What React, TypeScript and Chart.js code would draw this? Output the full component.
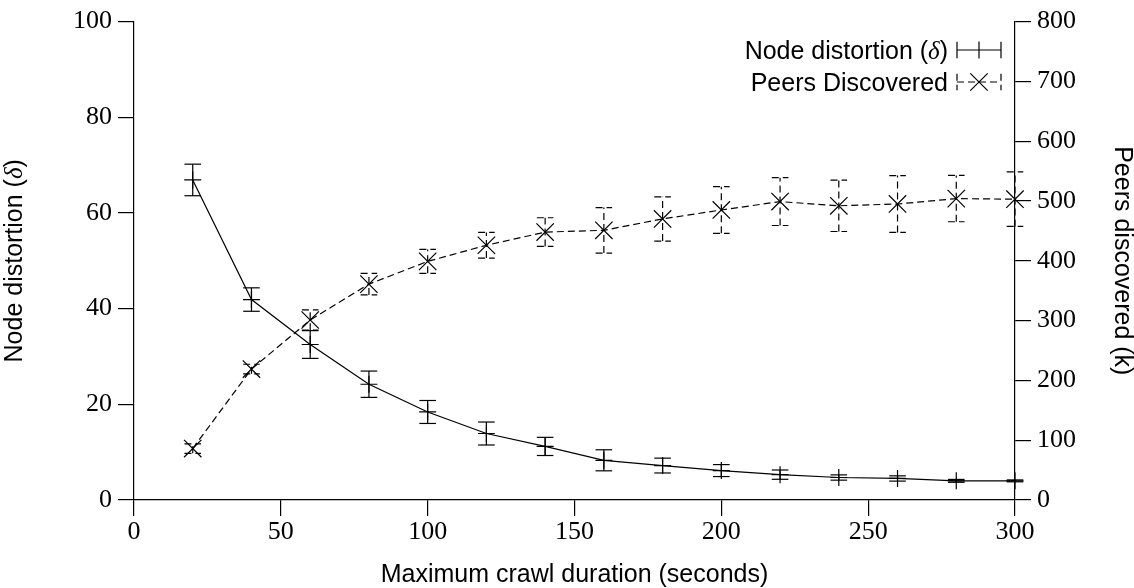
import React, { useEffect, useRef } from "react";
import { Chart, registerables } from "chart.js";

Chart.register(...registerables);

// ---- data ----
const crawlDurations = [20, 40, 60, 80, 100, 120, 140, 160, 180, 200, 220, 240, 260, 280, 300];
const nodeDistortion = [66.9, 41.9, 32.5, 24.2, 18.4, 13.9, 11.2, 8.3, 7.2, 6.15, 5.3, 4.7, 4.5, 4.0, 4.0];
const nodeDistortionErr = [3.3, 2.45, 2.9, 2.75, 2.4, 2.4, 1.9, 2.2, 1.55, 1.25, 0.97, 0.55, 0.55, 0.3, 0.2];
const peersDiscovered = [86, 219, 301, 361, 399, 426, 448, 451, 470, 485, 499, 492, 495, 504, 503];
const peersDiscoveredErr = [8, 8, 17, 18, 20, 21.5, 24, 38, 37, 39, 40, 43, 47.5, 38.7, 45.6];

const xTickStep = 50;
const leftTickStep = 20;
const rightTickStep = 100;

const seriesLabels = ["Node distortion", "Peers Discovered"];
const xTitle = "Maximum crawl duration (seconds)";
const leftTitle = "Node distortion";
const rightTitle = "Peers discovered (k)";

const errorArrays = [nodeDistortionErr, peersDiscoveredErr];

const SANS = "'Liberation Sans', Arial, sans-serif";
const SERIF = "'Liberation Serif', 'Times New Roman', serif";
const DASH = [7, 4];
const CAP = 8.3;

type Part = { text: string; font: string };

function drawParts(ctx: CanvasRenderingContext2D, parts: Part[], x: number, y: number, align: "left" | "center" | "right") {
  let total = 0;
  const widths = parts.map((p) => {
    ctx.font = p.font;
    const w = ctx.measureText(p.text).width;
    total += w;
    return w;
  });
  let cx = align === "left" ? x : align === "center" ? x - total / 2 : x - total;
  ctx.textAlign = "left";
  parts.forEach((p, i) => {
    ctx.font = p.font;
    ctx.fillText(p.text, cx, y);
    cx += widths[i];
  });
}

const errorBarsPlugin = {
  id: "errorBars",
  afterDatasetsDraw(chart: any) {
    const ctx: CanvasRenderingContext2D = chart.ctx;
    const xScale = chart.scales.x;
    chart.data.datasets.forEach((ds: any, i: number) => {
      const yScale = chart.scales[ds.yAxisID];
      const errs = errorArrays[i];
      ctx.save();
      ctx.strokeStyle = "#000";
      ctx.lineWidth = 1.2;
      ctx.setLineDash(i === 1 ? DASH : []);
      ds.data.forEach((pt: any, j: number) => {
        const x = xScale.getPixelForValue(pt.x);
        const yLo = yScale.getPixelForValue(pt.y - errs[j]);
        const yHi = yScale.getPixelForValue(pt.y + errs[j]);
        ctx.beginPath();
        ctx.moveTo(x, yLo);
        ctx.lineTo(x, yHi);
        ctx.stroke();
        ctx.beginPath();
        ctx.moveTo(x - CAP, yLo);
        ctx.lineTo(x + CAP, yLo);
        ctx.stroke();
        ctx.beginPath();
        ctx.moveTo(x - CAP, yHi);
        ctx.lineTo(x + CAP, yHi);
        ctx.stroke();
      });
      ctx.restore();
    });
  },
};

const annotationsPlugin = {
  id: "annotations",
  afterDraw(chart: any) {
    const ctx: CanvasRenderingContext2D = chart.ctx;
    const area = chart.chartArea;
    const sans = `25px ${SANS}`;
    const ital = `italic 25px ${SERIF}`;
    ctx.save();
    ctx.fillStyle = "#000";
    ctx.strokeStyle = "#000";
    ctx.lineWidth = 1.2;

    // axis titles
    const midY = (area.top + area.bottom) / 2;
    ctx.save();
    ctx.translate(15, midY);
    ctx.rotate(-Math.PI / 2);
    ctx.textBaseline = "middle";
    drawParts(ctx, [
      { text: leftTitle + " (", font: sans },
      { text: "δ", font: ital },
      { text: ")", font: sans },
    ], 0, 0, "center");
    ctx.restore();

    ctx.save();
    ctx.translate(1122, midY);
    ctx.rotate(Math.PI / 2);
    ctx.textBaseline = "middle";
    drawParts(ctx, [{ text: rightTitle, font: sans }], 0, 0, "center");
    ctx.restore();

    // legend
    const textRight = 948;
    const iconL = 957;
    const iconR = 1001;
    const iconC = (iconL + iconR) / 2;
    ctx.textBaseline = "alphabetic";
    drawParts(ctx, [
      { text: seriesLabels[0] + " (", font: sans },
      { text: "δ", font: ital },
      { text: ")", font: sans },
    ], textRight, 59.3, "right");
    drawParts(ctx, [{ text: seriesLabels[1], font: sans }], textRight, 91, "right");

    const r1 = 50;
    ctx.setLineDash([]);
    ctx.beginPath();
    ctx.moveTo(iconL, r1);
    ctx.lineTo(iconR, r1);
    ctx.moveTo(iconL, r1 - CAP);
    ctx.lineTo(iconL, r1 + CAP);
    ctx.moveTo(iconR, r1 - CAP);
    ctx.lineTo(iconR, r1 + CAP);
    ctx.moveTo(iconC, r1 - 8.5);
    ctx.lineTo(iconC, r1 + 8.5);
    ctx.stroke();

    const r2 = 82;
    ctx.setLineDash(DASH);
    ctx.beginPath();
    ctx.moveTo(iconL, r2);
    ctx.lineTo(iconR, r2);
    ctx.stroke();
    ctx.beginPath();
    ctx.moveTo(iconL, r2 - CAP);
    ctx.lineTo(iconL, r2 + CAP);
    ctx.stroke();
    ctx.beginPath();
    ctx.moveTo(iconR, r2 - CAP);
    ctx.lineTo(iconR, r2 + CAP);
    ctx.stroke();
    ctx.setLineDash([]);
    ctx.beginPath();
    const d = 8.7;
    ctx.moveTo(iconC - d, r2 - d);
    ctx.lineTo(iconC + d, r2 + d);
    ctx.moveTo(iconC - d, r2 + d);
    ctx.lineTo(iconC + d, r2 - d);
    ctx.stroke();

    ctx.restore();
  },
};

export default function App() {
  const canvasRef = useRef<HTMLCanvasElement | null>(null);

  useEffect(() => {
    if (!canvasRef.current) return;
    const tickFont = { family: SERIF, size: 26 };
    const gridCommon = {
      display: true,
      drawOnChartArea: false,
      drawTicks: true,
      tickLength: 16,
      color: "#000",
      lineWidth: 1.2,
    };
    const borderCommon = { display: true, color: "#000", width: 1.2 };

    const chart = new Chart(canvasRef.current, {
      type: "line",
      data: {
        datasets: [
          {
            label: seriesLabels[0],
            data: crawlDurations.map((x, i) => ({ x, y: nodeDistortion[i] })),
            yAxisID: "y",
            borderColor: "#000",
            backgroundColor: "#000",
            borderWidth: 1.2,
            pointStyle: "cross",
            pointRadius: 8.5,
            pointBorderWidth: 1.2,
            pointBorderColor: "#000",
            tension: 0,
            fill: false,
            clip: false,
          },
          {
            label: seriesLabels[1],
            data: crawlDurations.map((x, i) => ({ x, y: peersDiscovered[i] })),
            yAxisID: "y2",
            borderColor: "#000",
            backgroundColor: "#000",
            borderWidth: 1.2,
            borderDash: DASH,
            pointStyle: "crossRot",
            pointRadius: 12.3,
            pointBorderWidth: 1.2,
            pointBorderColor: "#000",
            tension: 0,
            fill: false,
            clip: false,
          },
        ],
      },
      options: {
        responsive: false,
        animation: false,
        devicePixelRatio: 1,
        layout: { padding: { top: 17.5, left: 0, right: 0, bottom: 0 } },
        plugins: {
          legend: { display: false },
          tooltip: { enabled: false },
          title: { display: false },
        },
        scales: {
          x: {
            type: "linear",
            min: 0,
            max: 300,
            ticks: { stepSize: xTickStep, font: tickFont, color: "#000", padding: 1, maxRotation: 0 },
            grid: gridCommon,
            border: borderCommon,
            title: {
              display: true,
              text: xTitle,
              font: { family: SANS, size: 25, lineHeight: 1 },
              color: "#000",
              padding: 0,
            },
            afterFit: (s: any) => {
              s.height = 88;
            },
          },
          y: {
            type: "linear",
            position: "left",
            min: 0,
            max: 100,
            ticks: { stepSize: leftTickStep, font: tickFont, color: "#000", padding: 6, autoSkip: false },
            grid: gridCommon,
            border: borderCommon,
            afterFit: (s: any) => {
              s.width = 134;
            },
          },
          y2: {
            type: "linear",
            position: "right",
            min: 0,
            max: 800,
            ticks: { stepSize: rightTickStep, font: tickFont, color: "#000", padding: 6, autoSkip: false },
            grid: gridCommon,
            border: borderCommon,
            afterFit: (s: any) => {
              s.width = 119;
            },
          },
        },
      },
      plugins: [errorBarsPlugin, annotationsPlugin],
    } as any);
    return () => chart.destroy();
  }, []);

  return (
    <div style={{ position: "absolute", left: 0, top: 0, width: 1134, height: 588, background: "#fff" }}>
      <canvas ref={canvasRef} width={1134} height={588} style={{ display: "block" }} />
    </div>
  );
}
